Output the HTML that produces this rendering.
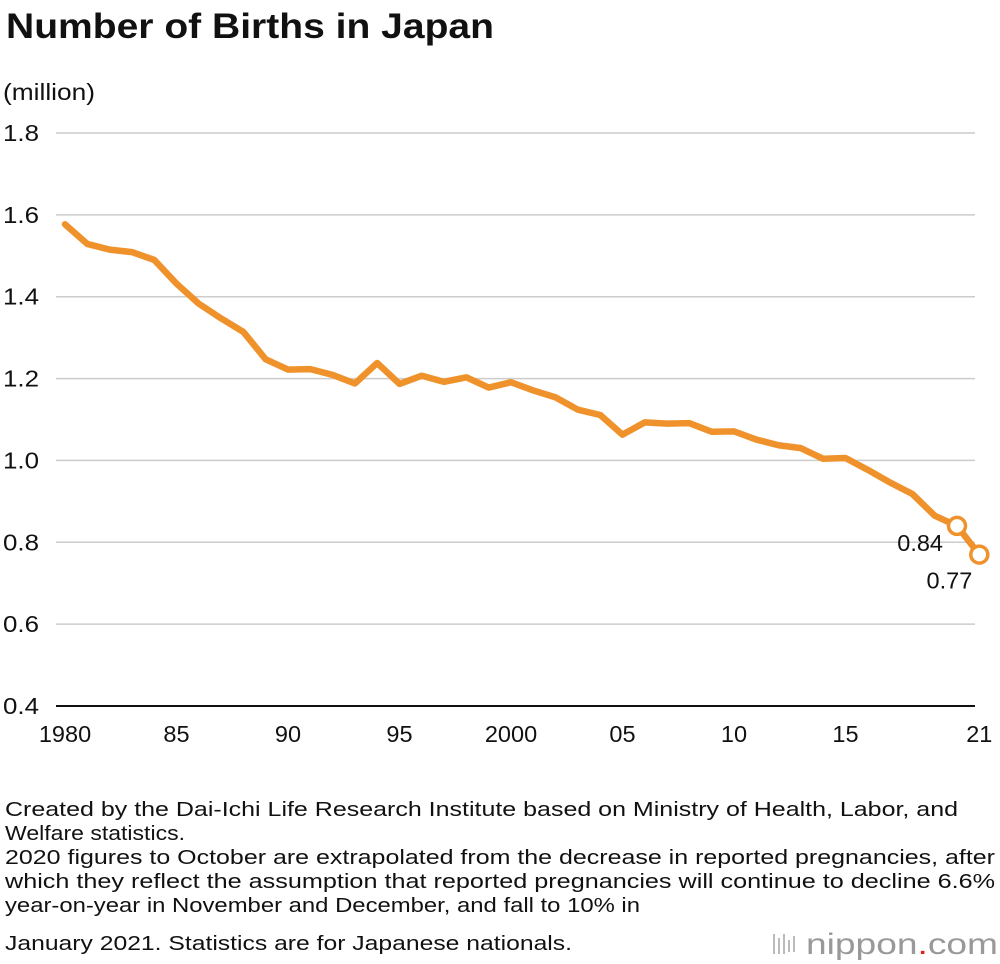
<!DOCTYPE html>
<html><head><meta charset="utf-8"><style>
body{margin:0;background:#fff;width:1000px;height:964px;overflow:hidden;font-family:"Liberation Sans",Arial,sans-serif;color:#111}
svg{position:absolute;left:0;top:0}
</style></head><body>
<svg width="1000" height="964">
<text x="6" y="38" font-size="35" font-weight="bold" fill="#111" textLength="488" lengthAdjust="spacingAndGlyphs">Number of Births in Japan</text>
<text x="3" y="100" font-size="23" fill="#111" textLength="92" lengthAdjust="spacingAndGlyphs">(million)</text>
<g id="grid"></g>
<g id="xt"></g>
<path id="line" fill="none" stroke="#f0922b" stroke-width="6.5" stroke-linejoin="round" stroke-linecap="round"/>
<g id="pts"></g>
<g font-size="20.5" fill="#111">
<text x="5" y="816" textLength="953" lengthAdjust="spacingAndGlyphs">Created by the Dai-Ichi Life Research Institute based on Ministry of Health, Labor, and</text>
<text x="5" y="840" textLength="180" lengthAdjust="spacingAndGlyphs">Welfare statistics.</text>
<text x="5" y="864" textLength="990" lengthAdjust="spacingAndGlyphs">2020 figures to October are extrapolated from the decrease in reported pregnancies, after</text>
<text x="5" y="888" textLength="990" lengthAdjust="spacingAndGlyphs">which they reflect the assumption that reported pregnancies will continue to decline 6.6%</text>
<text x="5" y="912" textLength="635" lengthAdjust="spacingAndGlyphs">year-on-year in November and December, and fall to 10% in</text>
<text x="5" y="950" textLength="567" lengthAdjust="spacingAndGlyphs">January 2021. Statistics are for Japanese nationals.</text>
</g>
<g><rect x="773" y="934" width="2" height="20" fill="#bbb"/><rect x="778" y="938" width="2" height="16" fill="#bbb"/><rect x="783" y="934" width="2" height="20" fill="#bbb"/><rect x="788" y="940" width="2" height="12" fill="#bbb"/><rect x="793" y="936" width="2" height="16" fill="#bbb"/>
<text x="806" y="954" font-size="30" fill="#999" textLength="192" lengthAdjust="spacingAndGlyphs">nippon<tspan fill="#e0201b">.</tspan>com</text></g>
</svg>
<script>
const years=[1980,1981,1982,1983,1984,1985,1986,1987,1988,1989,1990,1991,1992,1993,1994,1995,1996,1997,1998,1999,2000,2001,2002,2003,2004,2005,2006,2007,2008,2009,2010,2011,2012,2013,2014,2015,2016,2017,2018,2019,2020,2021];
const births=[1.577,1.529,1.515,1.509,1.490,1.432,1.383,1.347,1.314,1.247,1.222,1.223,1.209,1.188,1.238,1.187,1.207,1.192,1.203,1.178,1.191,1.171,1.154,1.124,1.111,1.063,1.093,1.090,1.091,1.070,1.071,1.051,1.037,1.030,1.004,1.006,0.977,0.946,0.918,0.865,0.84,0.77];
const yTicks=[0.4,0.6,0.8,1.0,1.2,1.4,1.6,1.8];
const xTickYears=[1980,1985,1990,1995,2000,2005,2010,2015,2021];
const xTickLabels=["1980","85","90","95","2000","05","10","15","21"];
const labeledYears=[2020,2021];
const NS="http://www.w3.org/2000/svg";
const X=y=>65+(y-1980)*22.3;
const Y=v=>706-(v-0.4)/1.4*573;
function mk(t,a,p){const e=document.createElementNS(NS,t);for(const k in a)e.setAttribute(k,a[k]);p.appendChild(e);return e;}
const grid=document.getElementById('grid');
yTicks.forEach((v,i)=>{
 const l=mk('line',{x1:56,x2:975,y1:Y(v),y2:Y(v),stroke:i===0?'#111':'#ccc','stroke-width':i===0?2:1.5},grid);
 
 
 const t=mk('text',{x:3,y:Y(v)+8,'font-size':23.5,fill:'#111',textLength:36,lengthAdjust:'spacingAndGlyphs'},grid);t.textContent=v.toFixed(1);
 
 
});
const xt=document.getElementById('xt');
xTickYears.forEach((y,i)=>{
 const t=mk('text',{x:X(y),y:742,'font-size':23.5,fill:'#111','text-anchor':'middle'},xt);t.textContent=xTickLabels[i];
 
 
});
document.getElementById('line').setAttribute('d',years.map((y,i)=>(i?'L':'M')+X(y)+','+Y(births[i])).join(''));
const pts=document.getElementById('pts');
labeledYears.forEach((yr,k)=>{
 const i=years.indexOf(yr);
 const c=mk('circle',{cx:X(yr),cy:Y(births[i]),r:8.5,fill:'#fff',stroke:'#f0922b','stroke-width':3.5},pts);
 
 
 const t=mk('text',{x:k===0?X(yr)-14:X(yr)-7,y:k===0?Y(births[i])+25:Y(births[i])+34,'font-size':23.5,fill:'#111','text-anchor':'end'},pts);
 t.textContent=births[i].toFixed(2);
 
 
});
</script>
</body></html>
